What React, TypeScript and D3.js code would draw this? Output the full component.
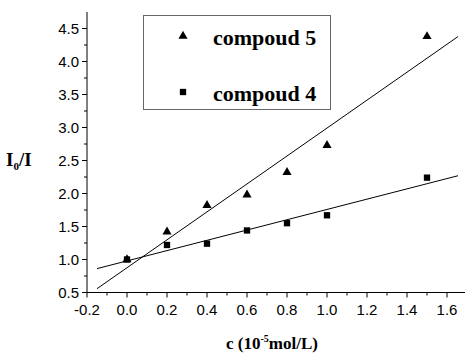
import * as d3 from "d3";
import React from "react";

const concentration = [0, 0.2, 0.4, 0.6, 0.8, 1.0, 1.5];
const compound5 = [1.0, 1.42, 1.82, 1.98, 2.32, 2.73, 4.38];
const compound4 = [1.0, 1.22, 1.24, 1.44, 1.55, 1.67, 2.24];
const xTickLabels = ["-0.2", "0.0", "0.2", "0.4", "0.6", "0.8", "1.0", "1.2", "1.4", "1.6"];
const yTickLabels = ["0.5", "1.0", "1.5", "2.0", "2.5", "3.0", "3.5", "4.0", "4.5"];
const fitRange = [-0.15, 1.655];

const W = 465;
const H = 353;
const tickFont = "Arial, 'Liberation Sans', sans-serif";
const serif = "'Times New Roman', 'Liberation Serif', serif";

// least squares fit
function fit(xs: number[], ys: number[]) {
  const mx = d3.mean(xs) as number;
  const my = d3.mean(ys) as number;
  const sxy = d3.sum(xs, (x, i) => (x - mx) * (ys[i] - my));
  const sxx = d3.sum(xs, x => (x - mx) ** 2);
  const slope = sxy / sxx;
  return { slope, intercept: my - slope * mx };
}

const App: React.FC = () => {
  const x = d3.scaleLinear().domain([-0.2, 1.69]).range([87, 465]);
  const y = d3.scaleLinear().domain([0.5, 4.5]).range([292.5, 28.5]);
  const yTop = y.invert(12);

  const xMinor = d3.range(-0.2, 1.65, 0.1).map(v => +v.toFixed(2));
  const yMinor = d3.range(0.5, 4.75, 0.25);

  const line = d3.line<number[]>().x(d => x(d[0])).y(d => y(d[1]));
  const f5 = fit(concentration, compound5);
  const f4 = fit(concentration, compound4);
  const fitLine = (f: { slope: number; intercept: number }) =>
    line(fitRange.map(c => [c, f.intercept + f.slope * c])) as string;

  const tri = d3.symbol(d3.symbolTriangle, 36)() as string;
  const sq = d3.symbol(d3.symbolSquare, 40)() as string;

  const x0 = x(-0.2);
  const y0 = y(0.5);

  return (
    <svg width={W} height={H} style={{ position: "absolute", left: 0, top: 0, background: "#fff" }}>
      {/* axes */}
      <line x1={x0} x2={x0} y1={y(yTop)} y2={y0} stroke="#000" strokeWidth={1} />
      <line x1={x0} x2={465} y1={y0} y2={y0} stroke="#000" strokeWidth={1} />

      {yMinor.map(v => {
        const major = Math.abs(v * 2 - Math.round(v * 2)) < 1e-6;
        return (
          <line key={"ym" + v} x1={x0 - (major ? 5 : 3)} x2={x0} y1={y(v)} y2={y(v)} stroke="#000" />
        );
      })}
      {yTickLabels.map(t => (
        <text key={"yl" + t} x={x0 - 8} y={y(+t)} dy="0.36em" textAnchor="end"
          fontFamily={tickFont} fontSize={15}>{t}</text>
      ))}

      {xMinor.map((v, i) => (
        <line key={"xm" + i} x1={x(v)} x2={x(v)} y1={y0} y2={y0 + (i % 2 === 0 ? 5 : 3)} stroke="#000" />
      ))}
      {xTickLabels.map(t => (
        <text key={"xl" + t} x={x(+t)} y={315} textAnchor="middle"
          fontFamily={tickFont} fontSize={15}>{t}</text>
      ))}

      {/* axis titles */}
      <text x={6} y={166} fontFamily={serif} fontWeight="bold" fontSize={19}>
        I<tspan fontSize={11} dy={4}>0</tspan><tspan dy={-4}>/I</tspan>
      </text>
      <text x={226} y={349} fontFamily={serif} fontWeight="bold" fontSize={17}>
        c (10<tspan fontSize={10} dy={-7}>-5</tspan><tspan dy={7}>mol/L)</tspan>
      </text>

      {/* fitted lines */}
      <path d={fitLine(f5)} fill="none" stroke="#000" strokeWidth={1} />
      <path d={fitLine(f4)} fill="none" stroke="#000" strokeWidth={1} />

      {/* points */}
      {concentration.map((c, i) => (
        <path key={"p5" + i} d={tri} transform={`translate(${x(c)},${y(compound5[i])})`} fill="#000" />
      ))}
      {concentration.map((c, i) => (
        <path key={"p4" + i} d={sq} transform={`translate(${x(c)},${y(compound4[i])})`} fill="#000" />
      ))}

      {/* legend */}
      <rect x={143.5} y={15.5} width={187} height={94} fill="#fff" stroke="#666" strokeWidth={1} />
      <path d={tri} transform="translate(183,36)" fill="#000" />
      <text x={213} y={45} fontFamily={serif} fontWeight="bold" fontSize={22}>compoud 5</text>
      <path d={sq} transform="translate(183,92)" fill="#000" />
      <text x={213} y={101} fontFamily={serif} fontWeight="bold" fontSize={22}>compoud 4</text>
    </svg>
  );
};

export default App;
